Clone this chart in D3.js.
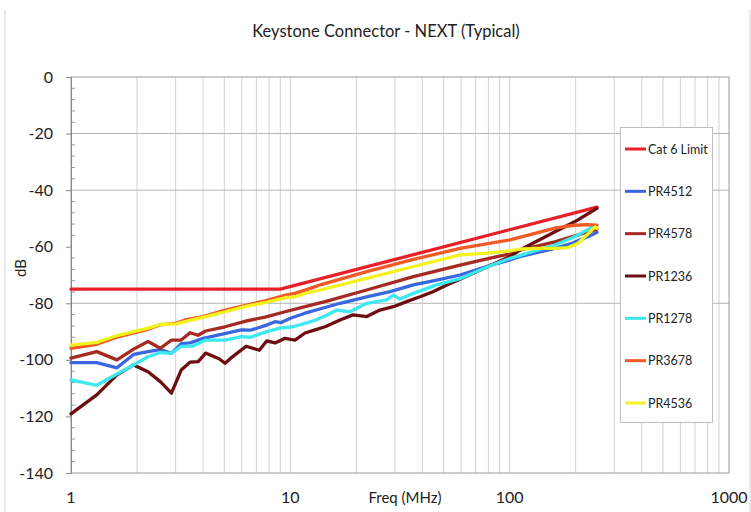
<!DOCTYPE html>
<html>
<head>
<meta charset="utf-8">
<script src="https://cdn.jsdelivr.net/npm/d3@7/dist/d3.min.js"></script>
<style>
  html, body { margin: 0; padding: 0; background: #fff; }
  svg { display: block; }
  text { font-family: Lato, "Open Sans", sans-serif; fill: #222; }
</style>
</head>
<body>
<svg id="chart" width="751" height="512"></svg>
<script>
// ---- data ----
const seriesNames = ["Cat 6 Limit", "PR4512", "PR4578", "PR1236", "PR1278", "PR3678", "PR4536"];
const seriesColors = ["#e8202a", "#3a66e0", "#a52a22", "#6e0e10", "#3ee8f0", "#f05a24", "#f2f21e"];

const fCat6 = [1, 9, 250];
const dbCat6 = [-75, -75, -46];

const fPR4512 = [1, 1.31, 1.62, 1.93, 2.245, 2.555, 2.87, 3.18, 3.49, 4.01, 4.73, 5.98, 6.6, 7.8, 8.52, 9.09, 10.0, 11.67, 14.4, 16.85, 22.3, 28.5, 36.4, 46.5, 59.4, 79.7, 100.4, 113.6, 161, 192, 228.6, 250];
const dbPR4512 = [-101, -101, -102.8, -98.1, -97.1, -96.4, -97.7, -94.3, -94.0, -92.4, -91.2, -89.4, -89.5, -87.7, -86.5, -86.8, -85.3, -83.5, -81.5, -80, -77.7, -75.9, -73.5, -71.8, -70, -66.8, -64.7, -63.3, -60.6, -58.8, -56.4, -54.9];

const fPR4578 = [1, 1.31, 1.62, 1.93, 2.245, 2.555, 2.87, 3.18, 3.49, 3.8, 4.11, 5.04, 6.33, 7.67, 9.46, 11.67, 14.4, 22.3, 36.4, 59.4, 79.7, 100.4, 113.6, 161, 250];
const dbPR4578 = [-99.4, -97.1, -100, -96.2, -93.5, -95.9, -93, -93, -90.4, -91.3, -89.8, -88.3, -86.2, -84.9, -83, -81.2, -79.4, -75.3, -70.6, -66.5, -64.2, -62.5, -61, -58.3, -53.8];

const fPR1236 = [1, 1.31, 1.62, 1.93, 2.245, 2.555, 2.87, 3.18, 3.49, 3.8, 4.11, 4.73, 5.04, 5.35, 6.29, 7.22, 7.8, 8.52, 9.46, 10.5, 11.67, 12.96, 14.4, 16.85, 19.3, 22.3, 25.6, 29.5, 33.9, 39.0, 44.7, 51.7, 59.4, 79.7, 100.4, 113.6, 161, 198.7, 250];
const dbPR1236 = [-119.1, -112.4, -105.3, -101.8, -104.2, -107.7, -111.8, -103.6, -100.8, -100.6, -97.6, -99.6, -101.2, -99.4, -95.2, -96.6, -93.3, -94, -92.4, -93, -90.5, -89.4, -88.3, -85.9, -84.1, -84.7, -82.4, -81.2, -79.4, -77.7, -75.9, -73.5, -71.5, -67, -63.5, -60.8, -54.7, -51.1, -46.4];

const fPR1278 = [1, 1.31, 1.62, 1.93, 2.245, 2.555, 2.87, 3.18, 3.6, 4.11, 5.04, 5.98, 6.6, 7.8, 8.97, 10.3, 11.67, 12.96, 14.4, 16.3, 18.7, 22.3, 27.5, 29.5, 31.6, 36.4, 46.5, 59.4, 79.7, 100.4, 113.6, 161, 198.7, 240.8, 250];
const dbPR1278 = [-107.1, -109, -105, -101.8, -98.9, -97.4, -97.7, -95.2, -95.1, -93, -93, -91.8, -92, -90, -88.8, -88.3, -87.1, -86, -84.5, -82.4, -83, -80, -78.8, -77.1, -78.5, -76.5, -73.5, -71.3, -67, -64.1, -62.9, -59.4, -56.4, -52.9, -52.8];

const fPR3678 = [1, 1.31, 1.62, 1.93, 2.245, 2.555, 3.03, 3.31, 4.0, 5.04, 6.33, 7.67, 9.63, 10.5, 12.04, 13.7, 22.3, 36.4, 59.4, 100.4, 161, 192, 224.7, 250];
const dbPR3678 = [-95.9, -94.5, -92, -90.5, -89.2, -87.6, -87.0, -85.9, -84.7, -82.4, -80.6, -79.1, -77.0, -76.5, -75, -73.5, -68.8, -64.5, -60.6, -57.6, -53.4, -52.5, -52.2, -52.4];

const fPR4536 = [1, 1.31, 1.62, 1.93, 2.245, 2.555, 3.03, 3.31, 4.0, 5.04, 6.33, 7.67, 9.63, 10.5, 12.04, 13.7, 22.3, 36.4, 59.4, 79.7, 100.4, 113.6, 134.7, 161, 184.6, 205, 224.7, 245.2, 250];
const dbPR4536 = [-94.8, -93.8, -91.4, -90.0, -88.8, -87.5, -87.3, -86.5, -85.0, -83.0, -81.0, -79.8, -77.9, -77.7, -76.2, -75.3, -71.2, -67, -62.9, -62.3, -61.5, -60.8, -60.6, -60.6, -60.3, -58.8, -55.9, -53, -53.5];

const yTicks = [0, -20, -40, -60, -80, -100, -120, -140];
const xTicks = [1, 10, 100, 1000];
const hGrid = [-20, -40, -80];

const titleText = "Keystone Connector - NEXT (Typical)";
const xTitle = "Freq (MHz)";
const yTitle = "dB";

// ---- build ----
const seriesF = [fCat6, fPR4512, fPR4578, fPR1236, fPR1278, fPR3678, fPR4536];
const seriesDb = [dbCat6, dbPR4512, dbPR4578, dbPR1236, dbPR1278, dbPR3678, dbPR4536];
const series = seriesNames.map((n, i) => ({
  name: n, color: seriesColors[i],
  pts: seriesF[i].map((f, j) => ({ f: f, v: seriesDb[i][j] }))
}));

const svg = d3.select("#chart");
const L = 71, R = 729, T = 77, B = 473;
const x = d3.scaleLog().domain([1, 1000]).range([L, R]);
const y = d3.scaleLinear().domain([-140, 0]).range([B, T]);

// outer frame
svg.append("line").attr("x1", 5).attr("x2", 5).attr("y1", 10).attr("y2", 512).attr("stroke", "#d4d4d4");
svg.append("line").attr("x1", 750).attr("x2", 750).attr("y1", 10).attr("y2", 512).attr("stroke", "#d4d4d4");

// title
svg.append("text").attr("x", 386).attr("y", 37).attr("text-anchor", "middle")
  .style("font-size", "16.5px").text(titleText);

// vertical grid
const minor = [];
for (let d = 1; d < 1000; d *= 10) for (let k = 1; k <= 9; k++) if (!(d === 1 && k === 1)) minor.push(d * k);
svg.append("g").selectAll("line").data(minor).join("line")
  .attr("x1", d => x(d)).attr("x2", d => x(d)).attr("y1", T).attr("y2", B)
  .attr("stroke", "#d2d2d2").attr("stroke-width", 1);

// horizontal grid
svg.append("g").selectAll("line").data(hGrid).join("line")
  .attr("x1", L).attr("x2", R).attr("y1", d => y(d)).attr("y2", d => y(d))
  .attr("stroke", "#b4b4b4").attr("stroke-width", 1);

// plot frame
svg.append("rect").attr("x", L).attr("y", T).attr("width", R - L).attr("height", B - T)
  .attr("fill", "none").attr("stroke", "#9a9a9a").attr("stroke-width", 1);

// y axis
const yAxis = d3.axisLeft(y).tickValues(yTicks).tickSize(5).tickFormat(d => String(d));
const gy = svg.append("g").attr("transform", `translate(${L},0)`).call(yAxis);
gy.select(".domain").attr("stroke", "#888");
gy.selectAll(".tick line").attr("stroke", "#888");
gy.selectAll(".tick text").attr("x", -18).style("font-size", "16px").style("font-family", "Lato, sans-serif").attr("fill", "#222");
const yMinor = d3.range(-140, 0, 4).filter(v => v % 20 !== 0);
svg.append("g").selectAll("line").data(yMinor).join("line")
  .attr("x1", L).attr("x2", L + 4).attr("y1", d => y(d)).attr("y2", d => y(d))
  .attr("stroke", "#999");

// x axis labels
svg.append("g").selectAll("text").data(xTicks).join("text")
  .attr("x", d => x(d)).attr("y", 503).attr("text-anchor", "middle")
  .style("font-size", "16px").text(d => String(d));
svg.append("text").attr("x", 405).attr("y", 503).attr("text-anchor", "middle")
  .style("font-size", "15px").text(xTitle);
svg.append("text").attr("transform", "translate(26,268) rotate(-90)").attr("text-anchor", "middle")
  .style("font-size", "15px").text(yTitle);

// lines
const line = d3.line().x(d => x(d.f)).y(d => y(d.v));
svg.append("g").selectAll("path").data(series).join("path")
  .attr("d", d => line(d.pts)).attr("fill", "none")
  .attr("stroke", d => d.color).attr("stroke-width", 3.3)
  .attr("stroke-linejoin", "round").attr("stroke-linecap", "round");

// legend
const lg = svg.append("g");
lg.append("rect").attr("x", 620.5).attr("y", 127.5).attr("width", 92).attr("height", 295)
  .attr("fill", "#fff").attr("stroke", "#bdbdbd");
const ly = d3.scalePoint().domain(seriesNames).range([149, 403]);
const items = lg.selectAll("g").data(series).join("g").attr("transform", d => `translate(0,${ly(d.name)})`);
items.append("line").attr("x1", 625).attr("x2", 646).attr("stroke", d => d.color).attr("stroke-width", 3);
items.append("text").attr("x", 648).attr("dy", "0.36em").style("font-size", "12.5px").text(d => d.name);
</script>
</body>
</html>
